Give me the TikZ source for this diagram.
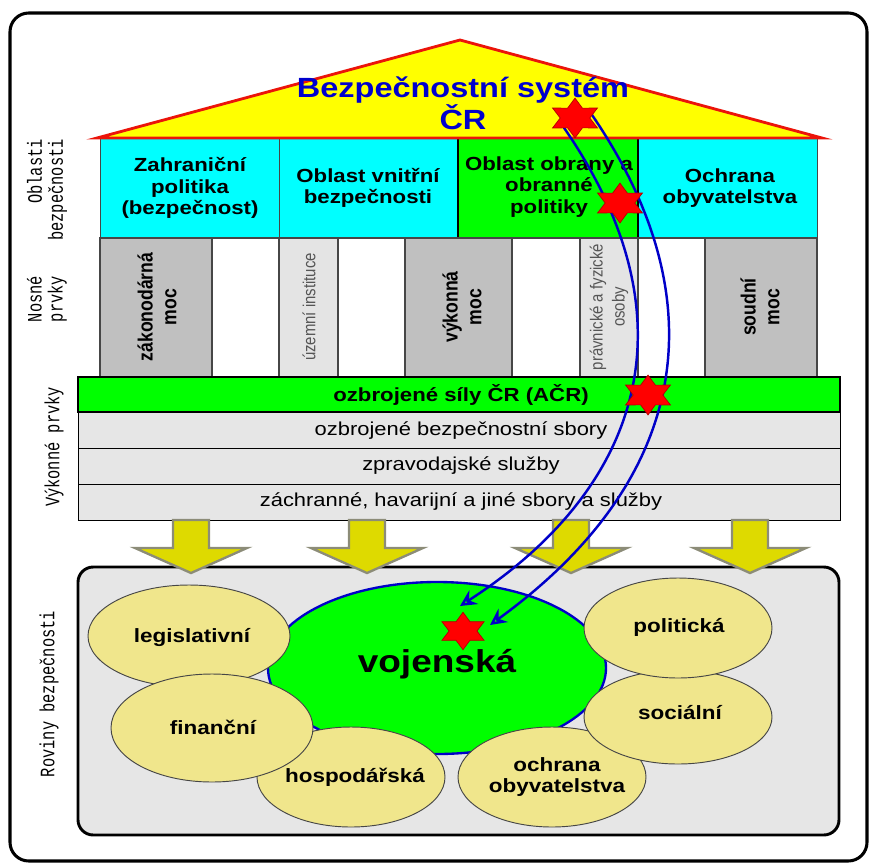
\documentclass[tikz,border=0pt]{standalone}
\usepackage{fontspec}
\setmainfont{Liberation Sans}
\newfontfamily\wideS[FakeStretch=1.17]{Liberation Sans}
\newfontfamily\narrowS[FakeStretch=0.855]{Liberation Sans}
\newfontfamily\monoN[FakeStretch=0.75]{Liberation Mono}
\usetikzlibrary{shapes.geometric,arrows.meta}
\definecolor{cyanC}{RGB}{0,255,255}
\definecolor{greenC}{RGB}{0,255,0}
\definecolor{roofY}{RGB}{255,255,0}
\definecolor{roofR}{RGB}{235,20,10}
\definecolor{pGrey}{RGB}{192,192,192}
\definecolor{lGrey}{RGB}{228,228,228}
\definecolor{rowGrey}{RGB}{230,230,230}
\definecolor{khakiC}{RGB}{240,230,140}
\definecolor{arrY}{RGB}{222,218,0}
\definecolor{arrO}{RGB}{140,140,120}
\definecolor{blueC}{RGB}{0,0,200}
\definecolor{titleB}{RGB}{0,0,205}
\definecolor{dGrey}{RGB}{70,70,70}
\definecolor{txtGrey}{RGB}{85,85,85}
\begin{document}
\begin{tikzpicture}[x=0.03cm,y=-0.03cm,
  cyanbox/.style={fill=cyanC,draw=dGrey,line width=0.8pt},
  greenbox/.style={fill=greenC,draw=black,line width=2.4pt},
  pillarG/.style={fill=pGrey,draw=dGrey,line width=1pt},
  pillarL/.style={fill=lGrey,draw=dGrey,line width=1pt},
  pillarW/.style={fill=white,draw=dGrey,line width=1pt},
  greenrow/.style={fill=greenC,draw=black,line width=2.4pt},
  greyrow/.style={fill=rowGrey,draw=black,line width=0.8pt},
  boxtext/.style={align=center,inner sep=0pt,font=\wideS\bfseries\fontsize{16.2pt}{18.3pt}\selectfont},
  rowtext/.style={inner sep=0pt,font=\wideS\fontsize{16pt}{18pt}\selectfont},
  rowbold/.style={inner sep=0pt,font=\wideS\bfseries\fontsize{16.2pt}{18pt}\selectfont},
  pbold/.style={rotate=90,align=center,inner sep=0pt,font=\narrowS\bfseries\fontsize{17.6pt}{20.4pt}\selectfont},
  plight/.style={rotate=90,align=center,inner sep=0pt,text=txtGrey,font=\narrowS\fontsize{14.9pt}{18.7pt}\selectfont},
  lbl/.style={rotate=90,inner sep=0pt,font=\monoN\fontsize{17.5pt}{18pt}\selectfont},
  elltext/.style={align=center,inner sep=0pt,font=\wideS\bfseries\fontsize{16.4pt}{17.5pt}\selectfont},
  smallE/.style={fill=khakiC,draw=dGrey,line width=0.8pt},
  yarrow/.style={fill=arrY,draw=arrO,line width=2pt,line join=miter},
  bcurve/.style={draw=blueC,line width=2.1pt,-{Stealth[open,length=14pt,width=14pt,inset=5pt]}},
  redstar/.style={star,star points=6,star point ratio=1.75,fill=red,draw=red!70!black,line width=0.6pt,minimum size=34pt,inner sep=0pt}
]
\useasboundingbox (0,0) rectangle (870,865);
% outer frame
\draw[line width=2.6pt,rounded corners=16pt] (10,13) rectangle (867,861);

% security areas
\draw[cyanbox] (100,138) rectangle (279,238);
\draw[cyanbox] (279,138) rectangle (458,238);
\draw[cyanbox] (638,138) rectangle (817,238);
\draw[greenbox] (458,138) rectangle (638,238);

% roof
\draw[fill=roofY,draw=roofR,line width=2.4pt,line join=miter] (97,138) -- (460,40) -- (822,138) -- cycle;
\node[align=center,inner sep=0pt,text=titleB,font=\wideS\bfseries\fontsize{23.7pt}{25.5pt}\selectfont] (title) at (463,103) {Bezpečnostní systém\\ČR};

\node[boxtext] (zp) at (190,188) {Zahraniční\\politika\\(bezpečnost)};
\node[boxtext] (ovb) at (368,188) {Oblast vnitřní\\bezpečnosti};
\node[boxtext] (oop) at (549,187) {Oblast obrany a\\obranné\\politiky};
\node[boxtext] (oo) at (730,188) {Ochrana\\obyvatelstva};

% pillars
\draw[pillarG] (100,238) rectangle (212,377);
\draw[pillarW] (212,238) rectangle (279,377);
\draw[pillarL] (279,238) rectangle (338,377);
\draw[pillarW] (338,238) rectangle (405,377);
\draw[pillarG] (405,238) rectangle (512,377);
\draw[pillarW] (512,238) rectangle (580,377);
\draw[pillarL] (580,238) rectangle (638,377);
\draw[pillarW] (638,238) rectangle (705,377);
\draw[pillarG] (705,238) rectangle (817,377);
\node[pbold] (zm) at (157,307) {zákonodárná\\moc};
\node[plight] (ui) at (309,307) {územní instituce};
\node[pbold] (vm) at (462,307) {výkonná\\moc};
\node[plight] (pfo) at (609,307) {právnické a fyzické\\osoby};
\node[pbold] (sm) at (760,307) {soudní\\moc};

% executive rows
\draw[greyrow] (78,412) rectangle (840,448);
\draw[greyrow] (78,448) rectangle (840,484);
\draw[greyrow] (78,484) rectangle (840,520);
\draw[greenrow] (78,377) rectangle (840,412);
\node[rowbold] (acr) at (461,395) {ozbrojené síly ČR (AČR)};
\node[rowtext] (obs) at (461,431) {ozbrojené bezpečnostní sbory};
\node[rowtext] (zs) at (461,466) {zpravodajské služby};
\node[rowtext] (zhs) at (461,502) {záchranné, havarijní a jiné sbory a služby};

% left labels
\node[lbl,align=right] (lOb) at (47,190) {Oblasti\\bezpečnosti};
\node[lbl,align=center] (lNp) at (47,299) {Nosné\\prvky};
\node[lbl] (lVp) at (54,447) {Výkonné prvky};
\node[lbl] (lRb) at (49,694) {Roviny bezpečnosti};

% bottom panel
\draw[fill=rowGrey,draw=black,line width=2.5pt,rounded corners=13pt] (78,567) rectangle (839,835);

% arrows
\foreach \cx in {191,367,571,750} {
  \draw[yarrow] (\cx-18,520) -- (\cx+18,520) -- (\cx+18,548) -- (\cx+56,548) -- (\cx,573) -- (\cx-56,548) -- (\cx-18,548) -- cycle;
}

% levels
\draw[fill=greenC,draw=blueC,line width=2pt] (437,668) ellipse [x radius=169, y radius=86];
\node[inner sep=0pt,font=\wideS\bfseries\fontsize{27pt}{28pt}\selectfont] (voj) at (437,664) {vojenská};
\draw[smallE] (189,636) ellipse [x radius=101, y radius=51];
\node[elltext] (leg) at (192,637) {legislativní};
\draw[smallE] (351,777) ellipse [x radius=94, y radius=50];
\node[elltext] (hos) at (355,777) {hospodářská};
\draw[smallE] (212,728) ellipse [x radius=101, y radius=54];
\node[elltext] (fin) at (213,727) {finanční};
\draw[smallE] (552,777) ellipse [x radius=94, y radius=50];
\node[elltext] (och) at (557,777) {ochrana\\obyvatelstva};
\draw[smallE] (678,717) ellipse [x radius=94, y radius=47];
\node[elltext] (soc) at (680,713) {sociální};
\draw[smallE] (678,628) ellipse [x radius=94, y radius=50];
\node[elltext] (pol) at (679,627) {politická};

% blue curves
\coordinate (aS) at (560,122);
\coordinate (aE) at (460,606);
\coordinate (bS) at (590,112);
\coordinate (bE) at (490,625);
\draw[bcurve] (aS) .. controls (700,320) and (640,490) .. (aE);
\draw[bcurve] (bS) .. controls (720,300) and (690,480) .. (bE);

% stars
\begin{scope}[shift={(575,118)},xscale=1.3]
\node[redstar,transform shape] (starA) at (0,0) {};
\end{scope}
\begin{scope}[shift={(620,203)},xscale=1.3]
\node[redstar,transform shape] (starB) at (0,0) {};
\end{scope}
\begin{scope}[shift={(648,395)},xscale=1.3]
\node[redstar,transform shape] (starC) at (0,0) {};
\end{scope}
\begin{scope}[shift={(463,631)},xscale=1.3]
\node[redstar,transform shape,minimum size=32pt] (starD) at (0,0) {};
\end{scope}
\end{tikzpicture}
\end{document}
